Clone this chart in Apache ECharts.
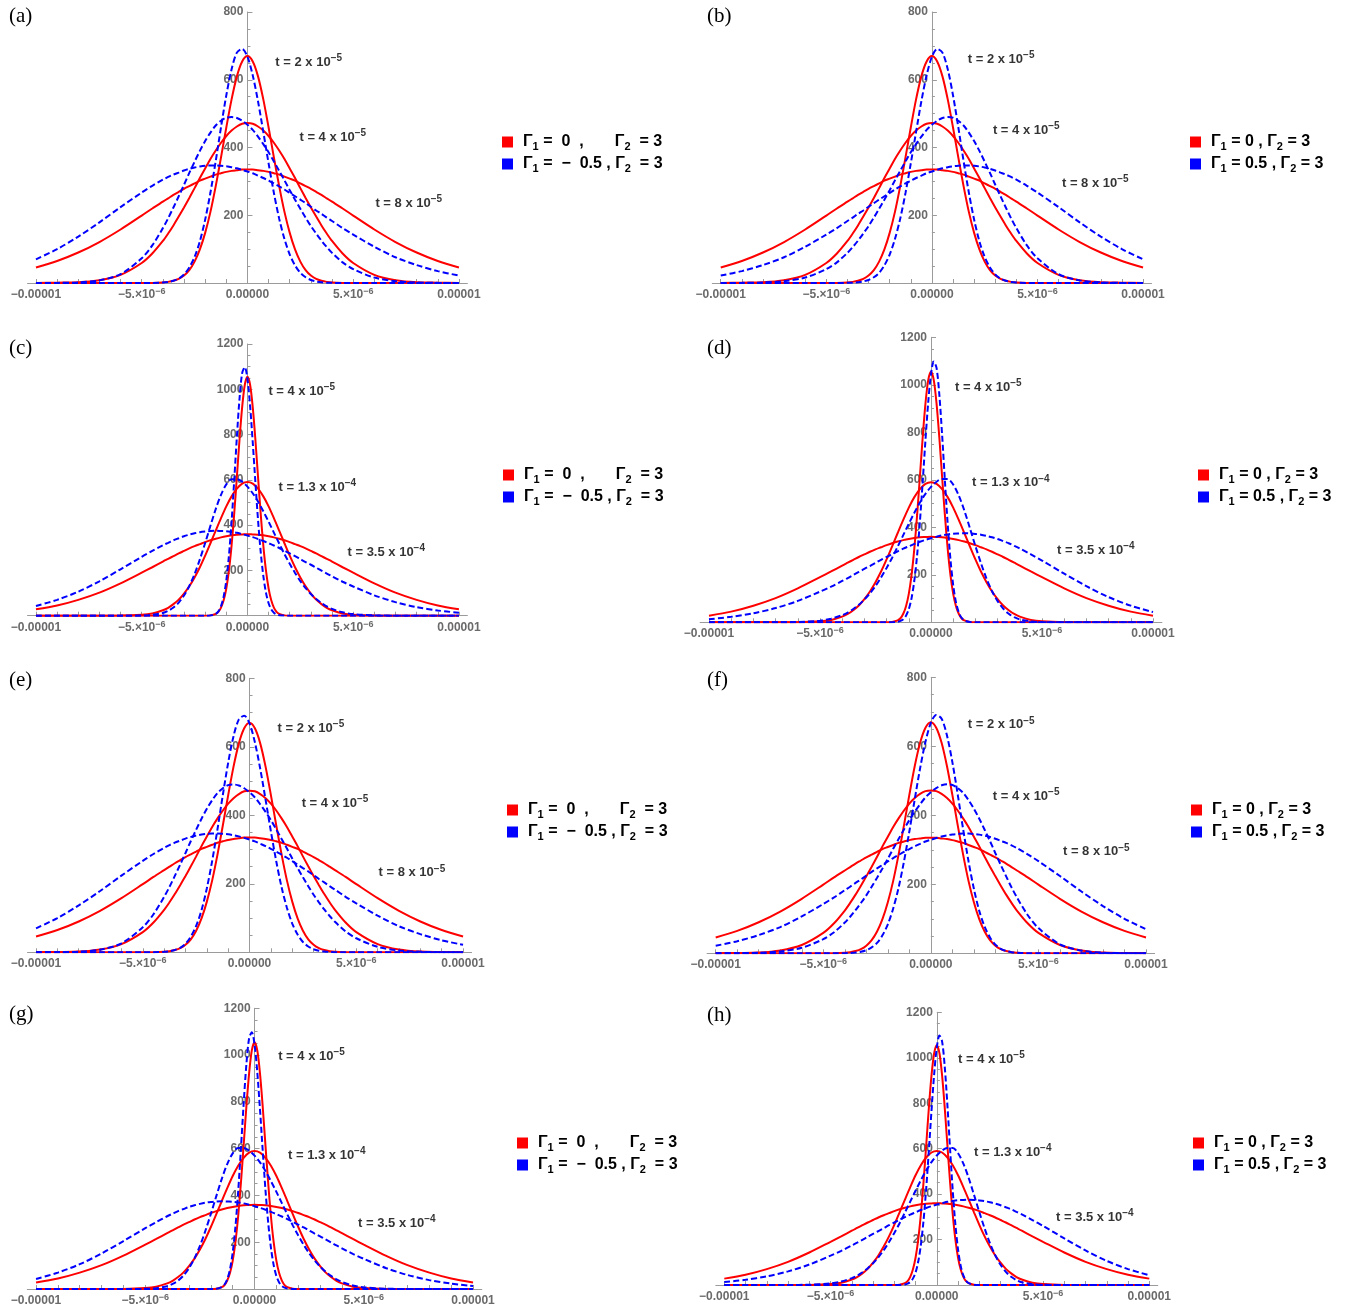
<!DOCTYPE html>
<html>
<head>
<meta charset="utf-8">
<script src="https://cdn.jsdelivr.net/npm/echarts@6/dist/echarts.min.js"></script>
<style>
  html, body { margin: 0; padding: 0; background: #ffffff; }
  #chart { width: 1365px; height: 1311px; }
</style>
</head>
<body>
<div id="chart"></div>
<script>
// ---------- sample positions (units of 1e-6) ----------
const xMid = [-10,-9,-8,-7,-6,-5,-4.5,-4,-3.75,-3.5,-3.25,-3,-2.75,-2.5,-2.25,-2,-1.75,-1.5,-1.25,-1,-0.75,-0.5,-0.25,
  0,0.25,0.5,0.75,1,1.25,1.5,1.75,2,2.25,2.5,2.75,3,3.25,3.5,3.75,4,4.5,5,6,7,8,9,10];
const xSpike = [-10,-4,-2,-1.75,-1.5,-1.375,-1.25,-1.125,-1,-0.875,-0.75,-0.625,-0.5,-0.375,-0.25,-0.125,
  0,0.125,0.25,0.375,0.5,0.625,0.75,0.875,1,1.125,1.25,1.375,1.5,1.75,2,4,10];

// ---------- t = 2e-5 / 4e-5 / 8e-5, Γ1 = 0 ----------
const red2e5 = [0,0,0,0,0,0,0.3,1.6,3.3,6.5,12,22,38,63,99,148,210,286,371,459,542,610,654,
  670,654,610,542,459,371,286,210,148,99,63,38,22,12,6.5,3.3,1.6,0.3,0,0,0,0,0,0];
const red4e5 = [0,1,2,8,24,59,87,124,146,170,196,223,251,280,310,338,366,391,414,434,450,462,470,
  472,470,462,450,434,414,391,366,338,310,280,251,223,196,170,146,124,87,59,24,8,2,1,0];
const red8e5 = [46,65,90,121,158,199,220,240,250,260,269,278,286,294,302,308,314,320,324,328,331,333,335,
  335,335,333,331,328,324,320,314,308,302,294,286,278,269,260,250,240,220,199,158,121,90,65,46];

// Γ1 = -0.5
const negA2e5 = [0,0,0,0,0,0,0.2,1.4,3.1,6.6,13,25,46,77,123,187,267,360,460,554,631,680,691,
  668,613,536,446,353,266,190,130,84,52,30,17,9,4.6,2.2,1,0.5,0.1,0,0,0,0,0,0];
const negA4e5 = [0,0.3,1.8,7.7,26,73,111,162,191,223,256,290,325,358,390,419,444,465,479,488,490,487,479,
  467,452,432,410,386,359,331,303,274,246,219,193,168,146,125,106,89,61,41,16,5.4,1.6,0.4,0.1];
const negA8e5 = [70,100,137,179,224,267,287,305,313,320,326,332,337,341,344,346,347,347,346,344.5,342,338.5,334,
  329,324,317,310,302,294,285,276,266,256,246,236,225,214,204,193,183,162,143,107,76,53,35,22];

// Γ1 = 0.5
const posA2e5 = [0,0,0,0,0,0,0.1,0.5,1,2.2,4.6,9,17,30,52,84,130,190,266,353,446,536,613,
  668,691,680,631,554,460,360,267,187,123,77,46,25,13,6.6,3.1,1.4,0.2,0,0,0,0,0,0];
const posA4e5 = [0.1,0.4,1.6,5.4,16,41,61,89,106,125,146,168,193,219,246,274,303,331,359,386,410,432,452,
  467,479,487,490,488,479,465,444,419,390,358,325,290,256,223,191,162,111,73,26,7.7,1.8,0.3,0];
const posA8e5 = [22,35,53,76,107,143,162,183,193,204,214,225,236,246,256,266,276,285,294,302,310,317,324,
  329,334,338.5,342,344.5,346,347,347,346,344,341,337,332,326,320,313,305,287,267,224,179,137,100,70];

// ---------- t = 4e-5 / 1.3e-4 / 3.5e-4, Γ1 = 0 ----------
const red4e5s = [0,0,0.2,1.4,8,17,36,68,120,200,311,452,613,778,921,1020,
  1055,1020,921,778,613,452,311,200,120,68,36,17,8,1.4,0.2,0,0];
const red13e4 = [0,0,0,0,0.4,4,10,24,35,51,71,98,130,169,214,265,320,376,431,483,527,561,583,
  590,583,561,527,483,431,376,320,265,214,169,130,98,71,51,35,24,10,4,0.4,0,0,0,0];
const red35e4 = [28,45,70,102,143,190,214,239,251,263,275,286,297,307,316,325,333,340,346,351,355,358,359,
  360,359,358,355,351,346,340,333,325,316,307,297,286,275,263,251,239,214,190,143,102,70,45,28];

// Γ1 = -0.5
const negC4e5 = [0,0,0.1,1.1,8,19,42,84,156,266,416,598,790,959,1071,1098,
  1045,927,766,590,423,283,176,102,55,28,13,5.7,2.3,0.3,0,0,0];
const negC13e4 = [0,0,0,0,0,0.8,3.5,12,21.5,36,58,89,131,184,249,321,397,471,534,580,603,603,592,
  570,541,504,461,415,367,319,272,229,189,153,122,96,74,56,41,30,15,7,1.3,0.2,0,0,0];
const negC35e4 = [43,70,106,152,205,260,286,311,322,333,342,351,358,364,369,372,374,375,374,373,370,366,360,
  354,347,339,330,320,310,299,287,275,263,250,237,225,212,199,186,174,150,129,90,60,38,23,13];

// Γ1 = 0.5
const posC4e5 = [0,0,0,0.3,2.3,5.7,13,28,55,102,176,283,423,590,766,927,
  1045,1098,1071,959,790,598,416,266,156,84,42,19,8,1.1,0.1,0,0];
const posC13e4 = [0,0,0,0.2,1.3,7,15,30,41,56,74,96,122,153,189,229,272,319,367,415,461,504,541,
  570,592,603,603,580,534,471,397,321,249,184,131,89,58,36,21.5,12,3.5,0.8,0,0,0,0,0];
const posC35e4 = [13,23,38,60,90,129,150,174,186,199,212,225,237,250,263,275,287,299,310,320,330,339,347,
  354,360,366,370,373,374,375,374,372,369,364,358,351,342,333,322,311,286,260,205,152,106,70,43];

// ---------- text ----------
const timesShort = ['{t|t = 2 x 10}{e|−5}', '{t|t = 4 x 10}{e|−5}', '{t|t = 8 x 10}{e|−5}'];
const timesLong  = ['{t|t = 4 x 10}{e|−5}', '{t|t = 1.3 x 10}{e|−4}', '{t|t = 3.5 x 10}{e|−4}'];
const xLabelValues = [-1e-5, -5e-6, 0, 5e-6, 1e-5];
const xLabelText = ['−0.00001', '{n|−5.×10}{e|−6}', '0.00000', '{n|5.×10}{e|−6}', '0.00001'];
const xTickMicro = [-10,-9,-8,-7,-6,-5,-4,-3,-2,-1,0,1,2,3,4,5,6,7,8,9,10];
const legendText = {
  L0: '{g0|Γ}{s|1}{g| =  0  ,       Γ}{s|2}{g|  = 3}',
  L1: '{g0|Γ}{s|1}{g| =  −  0.5 , Γ}{s|2}{g|  = 3}',
  R0: '{g0|Γ}{s|1}{g| = 0 , Γ}{s|2}{g| = 3}',
  R1: '{g0|Γ}{s|1}{g| = 0.5 , Γ}{s|2}{g| = 3}'
};

// ---------- curve sets ----------
const SETS = {
  A: { red: [[xMid, red2e5], [xMid, red4e5], [xMid, red8e5]],
       blue: [[xMid, negA2e5], [xMid, negA4e5], [xMid, negA8e5]], times: timesShort, yMax: 800 },
  B: { red: [[xMid, red2e5], [xMid, red4e5], [xMid, red8e5]],
       blue: [[xMid, posA2e5], [xMid, posA4e5], [xMid, posA8e5]], times: timesShort, yMax: 800 },
  C: { red: [[xSpike, red4e5s], [xMid, red13e4], [xMid, red35e4]],
       blue: [[xSpike, negC4e5], [xMid, negC13e4], [xMid, negC35e4]], times: timesLong, yMax: 1200 },
  D: { red: [[xSpike, red4e5s], [xMid, red13e4], [xMid, red35e4]],
       blue: [[xSpike, posC4e5], [xMid, posC13e4], [xMid, posC35e4]], times: timesLong, yMax: 1200 }
};

// ---------- panel layout ----------
const PANELS = [
  { tag: '(a)', tagAt: [9, 6],     box: [27.5, 12, 439.9, 271],     set: 'A', side: 'L', legendAt: [502, 134],
    timeAt: [[1.32, 652], [2.46, 431], [6.05, 236]] },
  { tag: '(b)', tagAt: [707, 6],   box: [712.3, 12, 439.2, 271],    set: 'B', side: 'R', legendAt: [1190, 134],
    timeAt: [[1.70, 661], [2.89, 451], [6.16, 295]] },
  { tag: '(c)', tagAt: [9, 338],   box: [27.5, 344, 439.9, 271.7],  set: 'C', side: 'L', legendAt: [503, 467],
    timeAt: [[0.99, 992], [1.47, 568], [4.73, 281]] },
  { tag: '(d)', tagAt: [707, 338], box: [700.1, 337.3, 461.8, 285], set: 'D', side: 'R', legendAt: [1198, 467],
    timeAt: [[1.08, 991], [1.85, 587], [5.68, 304]] },
  { tag: '(e)', tagAt: [9, 670],   box: [27.5, 678.3, 444.1, 274],  set: 'A', side: 'L', legendAt: [507, 802],
    timeAt: [[1.31, 655], [2.44, 436], [6.04, 232]] },
  { tag: '(f)', tagAt: [707, 670], box: [707.1, 677.3, 447.5, 276], set: 'B', side: 'R', legendAt: [1191, 802],
    timeAt: [[1.72, 662], [2.88, 454], [6.14, 294]] },
  { tag: '(g)', tagAt: [9, 1004],  box: [27.3, 1008.3, 454.5, 280.7], set: 'C', side: 'L', legendAt: [517, 1135],
    timeAt: [[1.08, 996], [1.53, 573], [4.74, 282]] },
  { tag: '(h)', tagAt: [707, 1005], box: [715.8, 1012.3, 442, 272.7], set: 'D', side: 'R', legendAt: [1193, 1135],
    timeAt: [[1.00, 994], [1.75, 585], [5.61, 299]] }
];

// ---------- styling ----------
const MICRO = 1e-6;
const FONT = "'Liberation Sans', Arial, sans-serif";
const RED = '#ff0000';
const BLUE = '#0000ff';
const AXIS = '#9b9b9b';
const TICK_TEXT = '#6a6a6a';

const tickRich = {
  n: { fontSize: 12, fontWeight: 'bold', color: TICK_TEXT, fontFamily: FONT, lineHeight: 15 },
  e: { fontSize: 9, fontWeight: 'bold', color: TICK_TEXT, fontFamily: FONT, lineHeight: 8, verticalAlign: 'top' }
};
const timeRich = {
  t: { fontSize: 13, fontWeight: 'bold', color: '#000', fontFamily: FONT, lineHeight: 18 },
  e: { fontSize: 10, fontWeight: 'bold', color: '#000', fontFamily: FONT, lineHeight: 9, verticalAlign: 'top' }
};
const legendRich = {
  g0: { fontSize: 16, fontWeight: 'bold', color: '#000', fontFamily: FONT, lineHeight: 20, padding: [0, 0, 0, 5] },
  g:  { fontSize: 16, fontWeight: 'bold', color: '#000', fontFamily: FONT, lineHeight: 20 },
  s:  { fontSize: 11, fontWeight: 'bold', color: '#000', fontFamily: FONT, lineHeight: 11, verticalAlign: 'bottom' }
};

function toPairs(xs, ys) {
  return xs.map((x, i) => [x * MICRO, ys[i]]);
}

const grids = [], xAxes = [], yAxes = [], series = [], titles = [], legends = [];

PANELS.forEach((p, i) => {
  const set = SETS[p.set];
  grids.push({ left: p.box[0], top: p.box[1], width: p.box[2], height: p.box[3],
               containLabel: false, outerBoundsMode: 'none' });

  xAxes.push({
    gridIndex: i, type: 'value', min: -1.04e-5, max: 1.04e-5,
    axisLine: { show: true, onZero: true, lineStyle: { color: AXIS, width: 1 } },
    axisTick: { show: true, inside: true, length: 4, customValues: xTickMicro.map(v => v * MICRO),
                lineStyle: { color: AXIS, width: 1 } },
    axisLabel: {
      show: true, margin: 4, customValues: xLabelValues, fontSize: 12, fontWeight: 'bold',
      color: TICK_TEXT, fontFamily: FONT, lineHeight: 15, rich: tickRich,
      formatter: v => {
        const k = xLabelValues.findIndex(u => Math.abs(u - v) < 1e-9);
        return k >= 0 ? xLabelText[k] : '';
      }
    },
    splitLine: { show: false }
  });

  // the vertical axis sits at x = 0, i.e. in the middle of the symmetric x range
  yAxes.push({
    gridIndex: i, type: 'value', min: 0, max: set.yMax, interval: 200,
    position: 'left', offset: -p.box[2] / 2,
    axisLine: { show: true, onZero: false, lineStyle: { color: AXIS, width: 1 } },
    axisTick: { show: true, inside: true, length: 5, lineStyle: { color: AXIS, width: 1 } },
    minorTick: { show: true, splitNumber: 4, length: 3, lineStyle: { color: AXIS, width: 1 } },
    splitLine: { show: false }, minorSplitLine: { show: false },
    axisLabel: { show: true, margin: 4, fontSize: 12, fontWeight: 'bold', color: TICK_TEXT, fontFamily: FONT,
                 showMinLabel: false, formatter: v => (v === 0 ? '' : String(v)) }
  });

  const redName = p.side === 'L' ? 'L0' : 'R0';
  const blueName = p.side === 'L' ? 'L1' : 'R1';
  set.red.forEach(c => series.push({
    type: 'line', name: redName, xAxisIndex: i, yAxisIndex: i, data: toPairs(c[0], c[1]),
    showSymbol: false, smooth: 0.3, silent: true, z: 3,
    lineStyle: { color: RED, width: 2 }, itemStyle: { color: RED }
  }));
  set.blue.forEach(c => series.push({
    type: 'line', name: blueName, xAxisIndex: i, yAxisIndex: i, data: toPairs(c[0], c[1]),
    showSymbol: false, smooth: 0.3, silent: true, z: 4,
    lineStyle: { color: BLUE, width: 2, type: [6, 3] }, itemStyle: { color: BLUE }
  }));

  series.push({
    type: 'scatter', xAxisIndex: i, yAxisIndex: i, silent: true, symbolSize: 1, z: 5,
    itemStyle: { color: 'rgba(0,0,0,0)' },
    data: p.timeAt.map((q, k) => ({ value: [q[0] * MICRO, q[1]], label: { formatter: set.times[k] } })),
    label: { show: true, position: 'inside', align: 'left', verticalAlign: 'middle', rich: timeRich }
  });

  titles.push({ text: p.tag, left: p.tagAt[0], top: p.tagAt[1], padding: 0,
    textStyle: { fontFamily: "'Liberation Serif', 'Times New Roman', serif", fontWeight: 'normal', fontSize: 21, color: '#000' } });

  legends.push({
    orient: 'vertical', left: p.legendAt[0], top: p.legendAt[1], padding: 0, itemGap: 4,
    itemWidth: 11, itemHeight: 11, icon: 'rect', selectedMode: false,
    data: [ { name: redName, itemStyle: { color: RED, borderWidth: 0 } },
            { name: blueName, itemStyle: { color: BLUE, borderWidth: 0 } } ],
    formatter: name => legendText[name],
    textStyle: { rich: legendRich, fontSize: 16, fontWeight: 'bold', color: '#000', fontFamily: FONT }
  });
});

const chart = echarts.init(document.getElementById('chart'), null, { renderer: 'canvas' });
chart.setOption({
  animation: false,
  backgroundColor: '#ffffff',
  title: titles,
  legend: legends,
  grid: grids,
  xAxis: xAxes,
  yAxis: yAxes,
  series: series
});
</script>
</body>
</html>
